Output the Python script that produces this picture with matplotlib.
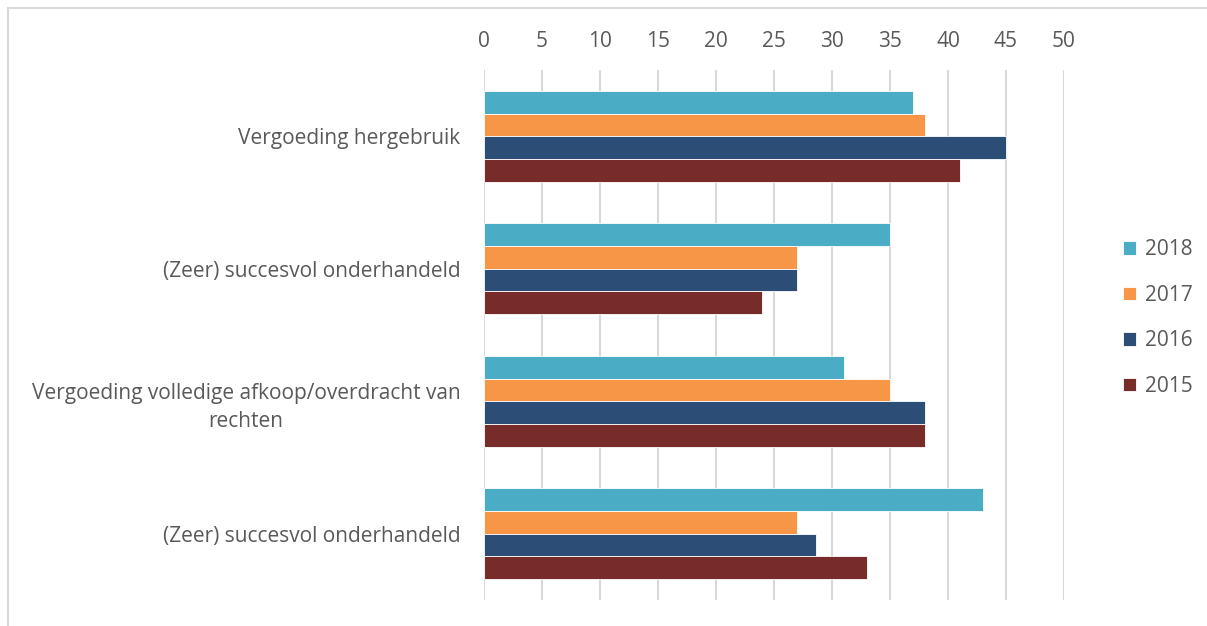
import matplotlib

matplotlib.use("Agg")
import matplotlib.pyplot as plt
import numpy as np
from matplotlib.lines import Line2D

plt.rcParams["font.family"] = ["Open Sans", "DejaVu Sans"]

# categories top -> bottom
categories = [
    "Vergoeding hergebruik",
    "(Zeer) succesvol onderhandeld",
    "Vergoeding volledige afkoop/overdracht van\nrechten",
    "(Zeer) succesvol onderhandeld",
]
years = ["2018", "2017", "2016", "2015"]
values_2018 = [37, 35, 31, 43]
values_2017 = [38, 27, 35, 27]
values_2016 = [45, 27, 38, 28.6]
values_2015 = [41, 24, 38, 33]
x_ticks = list(range(0, 55, 5))

series = [values_2018, values_2017, values_2016, values_2015]
colors = ["#4BACC6", "#F79646", "#2C4D75", "#772C2A"]
text_color = "#595959"
fs = 15

fig = plt.figure(figsize=(12.07, 6.26), dpi=100)
# chart-area border: only top and left edges are visible in the source
W, H = 1207, 626
fig.lines.append(Line2D([8 / W, 1], [1 - 8 / H, 1 - 8 / H], transform=fig.transFigure,
                        color="#D9D9D9", linewidth=1.5))
fig.lines.append(Line2D([8 / W, 8 / W], [0, 1 - 8 / H], transform=fig.transFigure,
                        color="#D9D9D9", linewidth=1.5))

ax = fig.add_axes([484 / W, 1 - 600 / H, 580 / W, 530 / H])

n = len(series)
bar_h = 0.171
y_center = np.arange(len(categories))
for i, (vals, col, yr) in enumerate(zip(series, colors, years)):
    offs = (i - (n - 1) / 2) * bar_h
    ax.barh(y_center + offs, vals, height=bar_h, color=col, label=yr,
            edgecolor="white", linewidth=0.6, zorder=3)

ax.set_ylim(len(categories) - 0.5, -0.5)
ax.set_xlim(0, 50)
ax.set_xticks(x_ticks)
ax.xaxis.tick_top()
ax.tick_params(axis="x", length=0, pad=13, labelsize=fs, labelcolor=text_color)
ax.set_yticks(y_center)
ax.set_yticklabels(categories, multialignment="center", fontsize=fs,
                   color=text_color, linespacing=1.45)
ax.tick_params(axis="y", length=0, pad=17)
ax.grid(axis="x", color="#D9D9D9", linewidth=1.5, zorder=0)
for s in ax.spines.values():
    s.set_visible(False)

leg = fig.legend(loc="center left", bbox_to_anchor=(1104 / W, 1 - 318 / H),
                 frameon=False, fontsize=fs, labelspacing=1.18,
                 handlelength=0.63, handleheight=0.63, handletextpad=0.45)
for t in leg.get_texts():
    t.set_color(text_color)

fig.savefig("out.png", dpi=100)
